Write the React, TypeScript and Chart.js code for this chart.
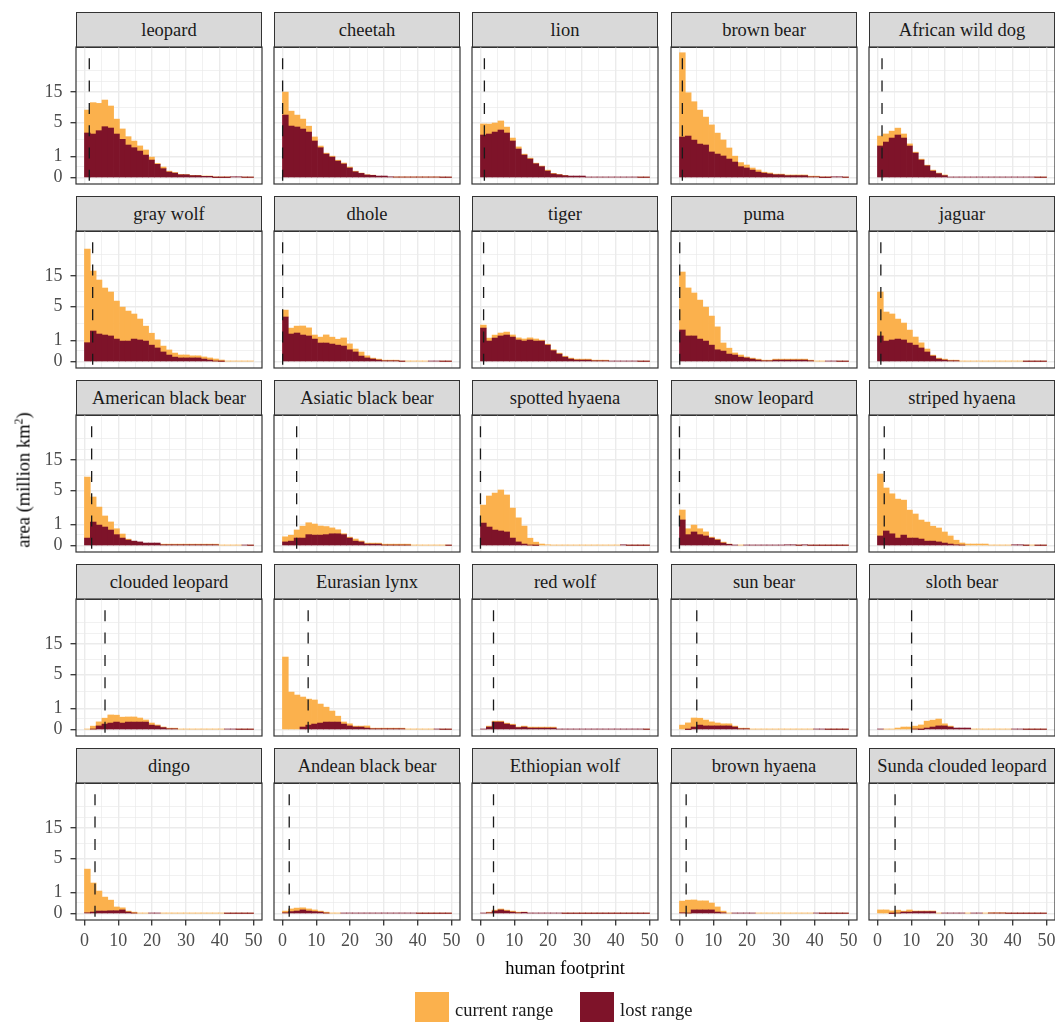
import React, { useEffect, useRef } from "react";
import { Chart, registerables } from "chart.js";
Chart.register(...registerables);

const FONT = "'Liberation Serif', 'Times New Roman', serif";
const ORANGE = "#FBB14D";
const RED = "#7E1329";
const GRID = "#EBEBEB";
const DARK = "#333333";

// ---------------- data ----------------
const species = [
  "leopard", "cheetah", "lion", "brown bear", "African wild dog",
  "gray wolf", "dhole", "tiger", "puma", "jaguar",
  "American black bear", "Asiatic black bear", "spotted hyaena", "snow leopard", "striped hyaena",
  "clouded leopard", "Eurasian lynx", "red wolf", "sun bear", "sloth bear",
  "dingo", "Andean black bear", "Ethiopian wolf", "brown hyaena", "Sunda clouded leopard",
];

// centres of the human-footprint bins
const binCenters = [0.86, 2.59, 4.31, 6.03, 7.76, 9.48, 11.21, 12.93, 14.66, 16.38, 18.10, 19.83, 21.55, 23.28, 25.0,
  26.72, 28.45, 30.17, 31.9, 33.62, 35.34, 37.07, 38.79, 40.52, 42.24, 43.97, 45.69, 47.41, 49.14];

// median human footprint (dashed line)
const medianFootprint = [1.43, 0.05, 1.16, 0.86, 1.35, 2.43, 0.06, 0.93, 0.08, 1.0, 2.13, 4.2, 0.0, 0.0, 2.01,
  6.08, 7.6, 3.86, 5.12, 10.1, 3.12, 2.0, 3.86, 1.98, 5.21];

const xTickLabels = [0, 10, 20, 30, 40, 50];
const xGridValues = [0, 5, 10, 15, 20, 25, 30, 35, 40, 45, 50];
const yTickLabels = [0, 1, 5, 15];

// area (million km²) per bin: lost range and current range
const leopardLost = [3.25, 3.11, 3.58, 4.21, 3.99, 3.11, 2.46, 1.88, 1.64, 1.37, 1.08, 0.77, 0.54, 0.34, 0.20, 0.16, 0.10, 0.10, 0.07, 0.07, 0.045, 0.045, 0.005, 0.005, 0.005, 0.03, 0.03, 0.01, 0.01];
const leopardCurrent = [1.10, 1.76, 1.42, 1.37, 1.04, 0.62, 0.40, 0.31, 0.24, 0.18, 0.18, 0.10, 0.03, 0.055, 0.03, 0.02, 0.01, 0.005, 0.01, 0.01, 0.01, 0.01, 0.02, 0.02, 0.02, 0, 0, 0.01, 0.01];
const cheetahLost = [6.60, 4.32, 4.16, 3.83, 3.38, 2.28, 1.64, 1.15, 0.95, 0.71, 0.56, 0.37, 0.21, 0.15, 0.09, 0.08, 0.055, 0.055, 0.03, 0.02, 0.02, 0.02, 0.02, 0.02, 0.02, 0.02, 0.02, 0.01, 0.01];
const cheetahCurrent = [1.10, 0.62, 0.47, 0.38, 0.21, 0.14, 0.055, 0.03, 0.03, 0.03, 0.03, 0.03, 0.02, 0.01, 0.01, 0.005, 0, 0, 0, 0.005, 0.005, 0.005, 0.005, 0.005, 0.005, 0.005, 0.005, 0.01, 0.01];
const lionLost = [2.98, 3.11, 3.38, 3.68, 3.25, 2.28, 1.53, 1.08, 0.83, 0.57, 0.43, 0.24, 0.13, 0.10, 0.07, 0.055, 0.055, 0.055, 0.02, 0.02, 0.02, 0.02, 0.02, 0.02, 0.02, 0.02, 0.02, 0.01, 0.01];
const lionCurrent = [0.43, 0.38, 0.34, 0.34, 0.21, 0.10, 0.07, 0.03, 0.03, 0.02, 0.02, 0.03, 0.02, 0.01, 0.01, 0, 0, 0, 0, 0, 0, 0, 0, 0, 0, 0, 0, 0.01, 0.01];
const brownBearLost = [2.73, 2.85, 2.38, 1.97, 1.88, 1.30, 1.15, 1.02, 0.83, 0.66, 0.43, 0.37, 0.28, 0.20, 0.16, 0.13, 0.10, 0.10, 0.07, 0.07, 0.07, 0.07, 0.03, 0.03, 0.005, 0.005, 0.03, 0.03, 0.01];
const brownBearCurrent = [14.3, 3.06, 2.46, 2.00, 1.47, 1.40, 0.97, 0.68, 0.43, 0.21, 0.14, 0.10, 0.07, 0.07, 0.03, 0.03, 0.02, 0.02, 0.02, 0.02, 0.02, 0.02, 0.02, 0.02, 0.02, 0.02, 0, 0, 0.01];
const wildDogLost = [1.79, 2.17, 2.61, 2.98, 2.61, 1.79, 1.22, 0.77, 0.47, 0.24, 0.14, 0.07, 0.02, 0.02, 0.02, 0.02, 0.02, 0.02, 0.02, 0.02, 0.02, 0.02, 0.02, 0.02, 0.02, 0.02, 0.02, 0.01, 0.01];
const wildDogCurrent = [0.38, 0.30, 0.25, 0.25, 0.14, 0.07, 0.03, 0.03, 0.02, 0.03, 0.02, 0.02, 0, 0, 0, 0, 0, 0, 0, 0, 0, 0, 0, 0, 0, 0, 0, 0.01, 0.01];
const grayWolfLost = [0.85, 1.70, 1.45, 1.37, 1.30, 1.08, 0.95, 0.95, 1.08, 1.02, 0.95, 0.71, 0.56, 0.37, 0.24, 0.16, 0.13, 0.13, 0.13, 0.13, 0.09, 0.055, 0.02, 0.01, 0, 0, 0, 0, 0];
const grayWolfCurrent = [19.7, 5.97, 4.74, 3.58, 3.15, 2.42, 2.00, 1.64, 1.25, 0.97, 0.62, 0.47, 0.30, 0.21, 0.18, 0.14, 0.10, 0.10, 0.07, 0.07, 0.07, 0.07, 0.07, 0.045, 0.02, 0.02, 0.02, 0.02, 0.02];
const dholeLost = [3.25, 1.45, 1.53, 1.37, 1.30, 1.08, 0.83, 0.83, 0.77, 0.71, 0.66, 0.47, 0.37, 0.20, 0.13, 0.09, 0.055, 0.03, 0.03, 0.03, 0.01, 0, 0, 0, 0, 0.02, 0.02, 0.01, 0.01];
const dholeCurrent = [0.25, 0.21, 0.25, 0.34, 0.30, 0.14, 0.21, 0.30, 0.25, 0.21, 0.30, 0.21, 0.10, 0.14, 0.07, 0.03, 0.03, 0.02, 0.02, 0.02, 0.01, 0.02, 0.02, 0.02, 0.02, 0, 0, 0.01, 0.01];
const tigerLost = [1.97, 0.95, 1.15, 1.30, 1.37, 1.22, 1.02, 0.95, 1.02, 0.95, 0.95, 0.71, 0.43, 0.28, 0.16, 0.09, 0.055, 0.055, 0.055, 0.03, 0.03, 0.03, 0.02, 0.02, 0.02, 0.02, 0.02, 0.01, 0.01];
const tigerCurrent = [0.10, 0.10, 0.10, 0.10, 0.10, 0.07, 0.07, 0.07, 0.07, 0.07, 0.03, 0.03, 0.03, 0.03, 0.03, 0.03, 0.03, 0.03, 0.03, 0.02, 0.02, 0.02, 0, 0, 0, 0, 0, 0.01, 0.01];
const pumaLost = [1.79, 1.30, 1.30, 1.08, 0.95, 0.71, 0.47, 0.41, 0.28, 0.24, 0.16, 0.13, 0.09, 0.055, 0.03, 0.03, 0.055, 0.055, 0.055, 0.055, 0.055, 0.055, 0.03, 0, 0, 0.02, 0.02, 0.01, 0.01];
const pumaCurrent = [5.53, 3.73, 3.02, 2.53, 2.00, 1.56, 1.10, 0.30, 0.21, 0.07, 0.07, 0.03, 0.03, 0.03, 0.02, 0.02, 0.03, 0.03, 0.03, 0.03, 0.03, 0.03, 0.02, 0.02, 0.02, 0, 0, 0.01, 0.01];
const jaguarLost = [1.30, 0.95, 1.02, 1.08, 1.02, 0.83, 0.71, 0.56, 0.37, 0.20, 0.09, 0.055, 0.03, 0.03, 0, 0, 0, 0, 0, 0, 0, 0, 0, 0, 0, 0.01, 0.01, 0.01, 0.01];
const jaguarCurrent = [3.15, 1.56, 1.32, 0.91, 0.73, 0.52, 0.30, 0.18, 0.10, 0.03, 0.03, 0.03, 0.02, 0.02, 0.02, 0.02, 0.02, 0.02, 0.02, 0.02, 0.02, 0.02, 0.02, 0.02, 0.02, 0.01, 0.01, 0.01, 0.01];
const amBlackBearLost = [0.28, 1.15, 0.95, 0.83, 0.66, 0.43, 0.28, 0.20, 0.16, 0.13, 0.09, 0.09, 0.09, 0.03, 0.03, 0.03, 0.03, 0.03, 0.03, 0.03, 0.03, 0.03, 0.03, 0, 0, 0, 0, 0.02, 0.01];
const amBlackBearCurrent = [6.20, 1.25, 0.79, 0.43, 0.30, 0.21, 0.14, 0.03, 0, 0, 0, 0, 0, 0.02, 0.02, 0.02, 0.02, 0.02, 0.02, 0.02, 0.02, 0.02, 0.02, 0.02, 0.02, 0.02, 0.02, 0, 0.01];
const asBlackBearLost = [0.13, 0.16, 0.28, 0.28, 0.43, 0.41, 0.41, 0.43, 0.47, 0.47, 0.43, 0.28, 0.16, 0.13, 0.055, 0.055, 0.055, 0.02, 0.02, 0.02, 0.02, 0.02, 0, 0, 0, 0, 0, 0, 0.01];
const asBlackBearCurrent = [0.18, 0.21, 0.30, 0.47, 0.47, 0.43, 0.34, 0.30, 0.21, 0.14, 0.03, 0.03, 0.07, 0.03, 0.03, 0.03, 0.03, 0.03, 0.03, 0.03, 0.03, 0.03, 0.02, 0.02, 0.02, 0.02, 0.02, 0.02, 0.01];
const spottedHyaenaLost = [1.08, 0.83, 0.66, 0.61, 0.56, 0.28, 0.13, 0.055, 0.02, 0.01, 0, 0, 0, 0, 0, 0, 0, 0, 0, 0, 0, 0, 0, 0, 0.03, 0.01, 0.01, 0.01, 0.01];
const spottedHyaenaCurrent = [0.79, 1.73, 2.31, 2.77, 2.31, 1.64, 1.18, 0.79, 0.25, 0.11, 0.055, 0.03, 0.02, 0.02, 0.02, 0.02, 0.02, 0.02, 0.02, 0.02, 0.02, 0.02, 0.02, 0.02, 0, 0.01, 0.01, 0.01, 0.01];
const snowLeopardLost = [1.30, 0.43, 0.56, 0.43, 0.37, 0.28, 0.20, 0.09, 0.045, 0.02, 0, 0.02, 0.02, 0.02, 0.02, 0.02, 0.02, 0.02, 0.03, 0.03, 0.01, 0.03, 0.01, 0.01, 0.01, 0.01, 0.01, 0.01, 0.01];
const snowLeopardCurrent = [0.38, 0.21, 0.25, 0.21, 0.14, 0.03, 0.03, 0.03, 0.01, 0, 0.02, 0, 0, 0, 0, 0, 0, 0, 0, 0, 0.01, 0, 0.01, 0.01, 0.01, 0.01, 0.01, 0.01, 0.01];
const stripedHyaenaLost = [0.37, 0.61, 0.47, 0.28, 0.41, 0.28, 0.28, 0.24, 0.16, 0.16, 0.13, 0.09, 0.055, 0.03, 0.02, 0, 0, 0, 0, 0, 0, 0, 0, 0.03, 0.03, 0.01, 0, 0.01, 0.01];
const stripedHyaenaCurrent = [6.43, 3.02, 2.65, 2.53, 2.10, 1.47, 1.18, 0.85, 0.85, 0.62, 0.57, 0.43, 0.30, 0.16, 0.07, 0.055, 0.055, 0.055, 0.055, 0.02, 0.02, 0.02, 0.02, 0, 0, 0.01, 0.02, 0.01, 0.01];
const cloudedLeopardLost = [0, 0.02, 0.13, 0.20, 0.24, 0.28, 0.24, 0.28, 0.28, 0.28, 0.28, 0.16, 0.13, 0.07, 0.03, 0.03, 0, 0, 0, 0, 0, 0, 0, 0, 0.02, 0.02, 0.01, 0.01, 0.01];
const cloudedLeopardCurrent = [0.02, 0.10, 0.14, 0.21, 0.30, 0.25, 0.21, 0.18, 0.18, 0.14, 0.07, 0.07, 0.03, 0.02, 0.02, 0.02, 0.02, 0.02, 0.02, 0.02, 0.02, 0.02, 0.02, 0.02, 0, 0, 0.01, 0.01, 0.01];
const lynxLost = [0, 0, 0, 0.09, 0.16, 0.20, 0.24, 0.28, 0.28, 0.28, 0.20, 0.13, 0.09, 0.09, 0.055, 0.03, 0.03, 0.03, 0.03, 0.03, 0.03, 0, 0, 0, 0, 0, 0.02, 0.01, 0.01];
const lynxCurrent = [9.50, 2.38, 2.07, 1.64, 1.32, 1.18, 0.85, 0.62, 0.43, 0.21, 0.07, 0.07, 0.03, 0.03, 0.07, 0.02, 0.02, 0.02, 0.02, 0.02, 0.02, 0.02, 0.02, 0.02, 0.02, 0.02, 0, 0.01, 0.01];
const redWolfLost = [0.02, 0.09, 0.28, 0.28, 0.20, 0.16, 0.07, 0.09, 0.055, 0.055, 0.055, 0.055, 0.055, 0.02, 0.02, 0.02, 0.02, 0.02, 0.02, 0.02, 0.02, 0.02, 0.02, 0.02, 0.02, 0.02, 0.02, 0.02, 0.01];
const redWolfCurrent = [0, 0.03, 0.03, 0.03, 0.03, 0.03, 0.02, 0.03, 0.03, 0.03, 0.03, 0.03, 0.03, 0, 0, 0, 0, 0, 0, 0, 0, 0, 0, 0, 0, 0, 0, 0, 0.01];
const sunBearLost = [0, 0.005, 0.09, 0.16, 0.13, 0.13, 0.13, 0.13, 0.13, 0.09, 0.03, 0.03, 0, 0, 0, 0, 0, 0, 0, 0, 0, 0, 0, 0.02, 0.02, 0.01, 0.01, 0.01, 0.01];
const sunBearCurrent = [0.16, 0.24, 0.34, 0.25, 0.21, 0.14, 0.10, 0.07, 0.07, 0.03, 0.02, 0.02, 0.02, 0.02, 0.02, 0.02, 0.02, 0.02, 0.02, 0.02, 0.02, 0.02, 0.02, 0, 0, 0.01, 0.01, 0.01, 0.01];
const slothBearLost = [0.02, 0, 0, 0, 0, 0, 0.02, 0.005, 0.055, 0.09, 0.13, 0.13, 0.09, 0.055, 0.055, 0.055, 0, 0, 0, 0, 0, 0, 0, 0.02, 0.02, 0.01, 0.01, 0.01, 0.01];
const slothBearCurrent = [0, 0.02, 0.02, 0.055, 0.09, 0.09, 0.10, 0.16, 0.25, 0.25, 0.25, 0.07, 0.03, 0, 0, 0, 0.02, 0.02, 0.02, 0.02, 0.02, 0.02, 0.02, 0, 0, 0.01, 0.01, 0.01, 0.01];
const dingoLost = [0.03, 0.055, 0.09, 0.09, 0.10, 0.10, 0.13, 0.055, 0.02, 0, 0, 0.02, 0.02, 0, 0, 0, 0, 0, 0, 0, 0, 0, 0, 0, 0.01, 0.01, 0.01, 0.01, 0.01];
const dingoCurrent = [3.11, 1.56, 0.91, 0.57, 0.41, 0.13, 0.07, 0.03, 0.03, 0.02, 0.02, 0, 0, 0.02, 0.02, 0.02, 0.02, 0.02, 0.02, 0.02, 0.02, 0.02, 0.02, 0.02, 0.01, 0.01, 0.01, 0.01, 0.01];
const andeanLost = [0.03, 0.07, 0.09, 0.13, 0.09, 0.07, 0.055, 0.02, 0, 0, 0.02, 0.02, 0.02, 0.02, 0.02, 0.02, 0.02, 0.02, 0.02, 0.02, 0.02, 0.02, 0.02, 0.01, 0.01, 0.01, 0.01, 0.01, 0.01];
const andeanCurrent = [0.055, 0.09, 0.10, 0.07, 0.07, 0.055, 0.03, 0.03, 0.02, 0.02, 0, 0, 0, 0, 0, 0, 0, 0, 0, 0, 0, 0, 0, 0.01, 0.01, 0.01, 0.01, 0.01, 0.01];
const ethiopianLost = [0.02, 0.03, 0.09, 0.13, 0.09, 0.055, 0.03, 0.045, 0.02, 0.02, 0.02, 0.02, 0.02, 0.02, 0.01, 0.01, 0.01, 0.01, 0.01, 0.01, 0.01, 0.01, 0.01, 0.01, 0.01, 0.01, 0.01, 0.01, 0.01];
const ethiopianCurrent = [0, 0.02, 0.03, 0.03, 0.03, 0.03, 0.02, 0.01, 0, 0, 0, 0, 0, 0, 0.01, 0.01, 0.01, 0.01, 0.01, 0.01, 0.01, 0.01, 0.01, 0.01, 0.01, 0.01, 0.01, 0.01, 0.01];
const brownHyaenaLost = [0.03, 0.02, 0.13, 0.13, 0.13, 0.13, 0.055, 0.03, 0, 0.02, 0.02, 0.02, 0.02, 0, 0, 0, 0, 0, 0, 0, 0, 0, 0, 0.02, 0.01, 0.01, 0.01, 0.01, 0.01];
const brownHyaenaCurrent = [0.46, 0.52, 0.38, 0.34, 0.34, 0.25, 0.18, 0.055, 0.02, 0, 0, 0, 0, 0.02, 0.02, 0.02, 0.02, 0.02, 0.02, 0.02, 0.02, 0.02, 0.02, 0, 0.01, 0.01, 0.01, 0.01, 0.01];
const sundaLost = [0, 0, 0.005, 0.02, 0.055, 0.055, 0.07, 0.07, 0.07, 0.07, 0, 0.02, 0.02, 0.02, 0.02, 0, 0.02, 0.02, 0, 0.02, 0.02, 0.02, 0.01, 0.01, 0.01, 0.01, 0.01, 0.01, 0.01];
const sundaCurrent = [0.13, 0.13, 0.09, 0.10, 0.03, 0.07, 0.02, 0.02, 0.02, 0.02, 0.02, 0, 0, 0, 0, 0.02, 0, 0, 0.02, 0.01, 0.01, 0.01, 0.01, 0.01, 0.01, 0.01, 0.01, 0.01, 0.01];

const LOST = [leopardLost, cheetahLost, lionLost, brownBearLost, wildDogLost,
  grayWolfLost, dholeLost, tigerLost, pumaLost, jaguarLost,
  amBlackBearLost, asBlackBearLost, spottedHyaenaLost, snowLeopardLost, stripedHyaenaLost,
  cloudedLeopardLost, lynxLost, redWolfLost, sunBearLost, slothBearLost,
  dingoLost, andeanLost, ethiopianLost, brownHyaenaLost, sundaLost];
const CURRENT = [leopardCurrent, cheetahCurrent, lionCurrent, brownBearCurrent, wildDogCurrent,
  grayWolfCurrent, dholeCurrent, tigerCurrent, pumaCurrent, jaguarCurrent,
  amBlackBearCurrent, asBlackBearCurrent, spottedHyaenaCurrent, snowLeopardCurrent, stripedHyaenaCurrent,
  cloudedLeopardCurrent, lynxCurrent, redWolfCurrent, sunBearCurrent, slothBearCurrent,
  dingoCurrent, andeanCurrent, ethiopianCurrent, brownHyaenaCurrent, sundaCurrent];

// ---------------- layout ----------------
const PANEL_LEFT = [76, 274, 472, 671, 869];
const PLOT_TOP = [47, 231, 415, 599, 783];
const PW = 186;
const PH = 137;
const STRIP_H = 36;
const PAD = 30;
const AXIS_W = 56;
const AXIS_H = 36;

// log(1 + x) transformed y grid
const yMajorT = yTickLabels.map((v) => Math.log1p(v));
const yStepT = yMajorT[1] - yMajorT[0];
const yMinorT = [
  ...yMajorT.slice(1).map((v, i) => (v + yMajorT[i]) / 2),
  yMajorT[yMajorT.length - 1] + yStepT / 2,
  yMajorT[yMajorT.length - 1] + yStepT,
];
const yGridT = [...yMajorT, ...yMinorT].sort((a, b) => a - b);
const isMajorY = (v: number) => yMajorT.some((m) => Math.abs(m - v) < 1e-9);
const isMajorX = (v: number) => xTickLabels.includes(v);

function Panel({ idx }: { idx: number }) {
  const ref = useRef<HTMLCanvasElement | null>(null);
  const r = Math.floor(idx / 5);
  const c = idx % 5;
  const showY = c === 0;
  const showX = r === 4;
  const extraL = showY ? AXIS_W : 0;
  const extraB = showX ? AXIS_H : 0;
  const w = PW + 2 * PAD + extraL;
  const h = PH + 2 * PAD + extraB;
  const left = PANEL_LEFT[c] - PAD - extraL;
  const top = PLOT_TOP[r] - PAD;

  useEffect(() => {
    const lost = LOST[idx];
    const cur = CURRENT[idx];
    const pts = (arr: number[]) =>
      binCenters.map((x, i) => ({ x, y: arr[i] > 0 ? Math.log1p(arr[i]) : null }));
    const median = medianFootprint[idx];

    const decor = {
      id: "decor",
      afterDatasetsDraw(chart: any) {
        const { ctx, chartArea: a, scales } = chart;
        const x = scales.x.getPixelForValue(median);
        ctx.save();
        ctx.beginPath();
        ctx.rect(a.left, a.top, a.right - a.left, a.bottom - a.top);
        ctx.clip();
        ctx.strokeStyle = "#1A1A1A";
        ctx.lineWidth = 1.3;
        ctx.setLineDash([11, 11.3]);
        ctx.lineDashOffset = 11;
        ctx.beginPath();
        ctx.moveTo(x, a.top);
        ctx.lineTo(x, a.bottom);
        ctx.stroke();
        ctx.restore();
        ctx.save();
        ctx.strokeStyle = DARK;
        ctx.lineWidth = 1.2;
        ctx.strokeRect(a.left, a.top, a.right - a.left, a.bottom - a.top);
        ctx.restore();
      },
    };

    const chart = new Chart(ref.current as HTMLCanvasElement, {
      type: "bar",
      data: {
        datasets: [
          { label: "lost range", data: pts(lost) as any, backgroundColor: RED, borderWidth: 0 },
          { label: "current range", data: pts(cur) as any, backgroundColor: ORANGE, borderWidth: 0 },
        ],
      },
      options: {
        animation: false,
        responsive: false,
        maintainAspectRatio: false,
        layout: { padding: { left: PAD, right: PAD, top: PAD, bottom: PAD } },
        datasets: { bar: { barPercentage: 1, categoryPercentage: 1 } },
        scales: {
          x: {
            type: "linear",
            min: -2.5,
            max: 52.5,
            offset: false,
            stacked: true,
            border: { display: false },
            grid: {
              offset: false,
              color: GRID,
              lineWidth: (ctx: any) => (isMajorX(ctx.tick?.value) ? 1.4 : 0.7),
              drawTicks: showX,
              tickLength: 5.5,
              tickWidth: 1.3,
              tickColor: (ctx: any) => (isMajorX(ctx.tick?.value) ? DARK : "rgba(0,0,0,0)"),
            },
            ticks: {
              display: showX,
              autoSkip: false,
              maxRotation: 0,
              padding: 5,
              color: "#4D4D4D",
              font: { family: FONT, size: 18 },
              callback: (v: any) => (isMajorX(Number(v)) ? String(v) : ""),
            },
            afterBuildTicks: (s: any) => {
              s.ticks = xGridValues.map((v) => ({ value: v }));
            },
            afterFit: (s: any) => {
              s.height = showX ? AXIS_H : 0;
            },
          },
          y: {
            type: "linear",
            min: -0.204,
            max: 4.23,
            stacked: true,
            border: { display: false },
            grid: {
              color: GRID,
              lineWidth: (ctx: any) => (isMajorY(ctx.tick?.value) ? 1.4 : 0.7),
              drawTicks: showY,
              tickLength: 5.5,
              tickWidth: 1.3,
              tickColor: (ctx: any) => (isMajorY(ctx.tick?.value) ? DARK : "rgba(0,0,0,0)"),
            },
            ticks: {
              display: showY,
              autoSkip: false,
              padding: 8,
              color: "#4D4D4D",
              font: { family: FONT, size: 18 },
              callback: (v: any) => {
                const k = yMajorT.findIndex((m) => Math.abs(m - Number(v)) < 1e-9);
                return k >= 0 ? String(yTickLabels[k]) : "";
              },
            },
            afterBuildTicks: (s: any) => {
              s.ticks = yGridT.map((v) => ({ value: v }));
            },
            afterFit: (s: any) => {
              s.width = showY ? AXIS_W : 0;
            },
          },
        },
        plugins: { legend: { display: false }, tooltip: { enabled: false } },
      } as any,
      plugins: [decor],
    });
    return () => chart.destroy();
  }, [idx]);

  return (
    <>
      <div
        style={{
          position: "absolute",
          left: PANEL_LEFT[c],
          top: PLOT_TOP[r] - STRIP_H + 1,
          width: PW,
          height: STRIP_H,
          boxSizing: "border-box",
          background: "#D9D9D9",
          border: `1.2px solid ${DARK}`,
          display: "flex",
          alignItems: "center",
          justifyContent: "center",
          fontFamily: FONT,
          fontSize: 18.5,
          color: "#1A1A1A",
          whiteSpace: "nowrap",
          overflow: "hidden",
        }}
      >
        {species[idx]}
      </div>
      <canvas
        ref={ref}
        width={w}
        height={h}
        style={{ position: "absolute", left, top, width: w, height: h }}
      />
    </>
  );
}

export default function App() {
  return (
    <div
      style={{
        position: "absolute",
        left: 0,
        top: 0,
        width: 1055,
        height: 1022,
        overflow: "hidden",
        background: "#FFFFFF",
        fontFamily: FONT,
      }}
    >
      {species.map((_, i) => (
        <Panel key={i} idx={i} />
      ))}
      <div
        style={{
          position: "absolute",
          left: 24,
          top: 480,
          transform: "translate(-50%, -50%) rotate(-90deg)",
          whiteSpace: "nowrap",
          fontSize: 18.5,
          color: "#000",
        }}
      >
        area (million km<sup style={{ fontSize: 12, verticalAlign: "super", lineHeight: 0 }}>2</sup>)
      </div>
      <div
        style={{
          position: "absolute",
          left: 565,
          top: 968,
          transform: "translate(-50%, -50%)",
          whiteSpace: "nowrap",
          fontSize: 18.5,
          color: "#000",
        }}
      >
        human footprint
      </div>
      <div style={{ position: "absolute", left: 415, top: 992, width: 34, height: 30, background: ORANGE }} />
      <div
        style={{
          position: "absolute",
          left: 455,
          top: 1010,
          transform: "translateY(-50%)",
          whiteSpace: "nowrap",
          fontSize: 18.5,
          color: "#1A1A1A",
        }}
      >
        current range
      </div>
      <div style={{ position: "absolute", left: 580, top: 992, width: 34, height: 30, background: RED }} />
      <div
        style={{
          position: "absolute",
          left: 620,
          top: 1010,
          transform: "translateY(-50%)",
          whiteSpace: "nowrap",
          fontSize: 18.5,
          color: "#1A1A1A",
        }}
      >
        lost range
      </div>
    </div>
  );
}
